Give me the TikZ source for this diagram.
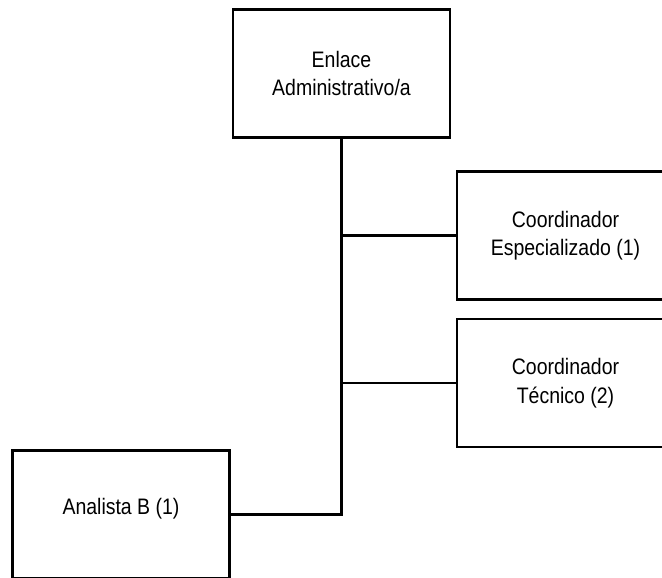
\documentclass[tikz,border=0pt]{standalone}
\usepackage{fontspec}
\setmainfont{Liberation Sans}[FakeStretch=0.87]

\tikzset{
  unidad/.style={draw=black,line width=2.6pt,fill=white,rectangle,
    minimum width=217pt,minimum height=128pt,inner sep=2pt,align=center,
    font=\fontsize{22.4}{28.5}\selectfont},
  enlace/.style={line width=2.6pt}
}

\begin{document}
\begin{tikzpicture}[x=1pt,y=-1pt]
  \useasboundingbox (0,0) rectangle (662,578);
  \clip (0,0) rectangle (662,578);

  \node[unidad] (admin) at (341.5,73.5) {Enlace\\Administrativo/a};
  \node[unidad] (especializado) at (565.5,235.5) {Coordinador\\Especializado (1)};
  \node[unidad] (tecnico) at (565.5,383) {Coordinador\\Técnico (2)};
  \node[unidad,text depth=17pt] (analista) at (121,514.5) {Analista B (1)};

  % tronco y ramas
  \draw[enlace] (admin.south) |- (analista.east);
  \draw[enlace] (admin.south |- especializado.west) -- (especializado.west);
  \draw[enlace] (admin.south |- tecnico.west) -- (tecnico.west);
\end{tikzpicture}
\end{document}
